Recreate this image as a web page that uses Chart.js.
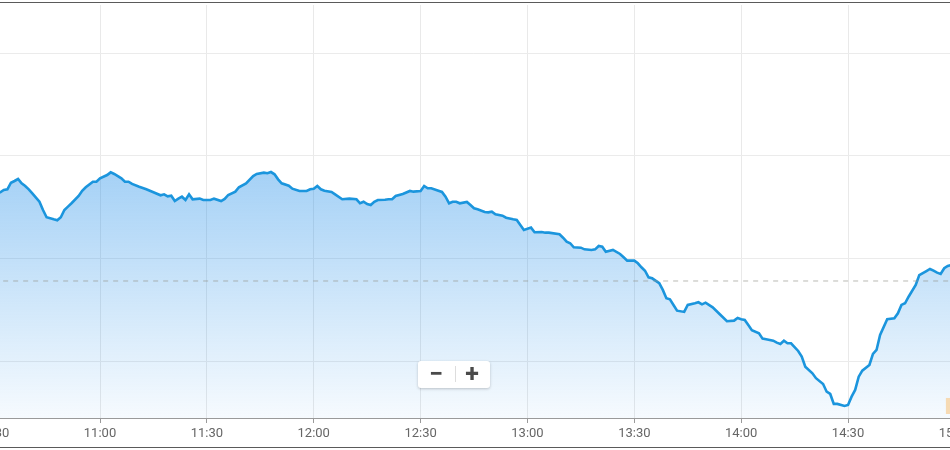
<!DOCTYPE html>
<html>
<head>
<meta charset="utf-8">
<script src="https://cdn.jsdelivr.net/npm/chart.js@4.4.0/dist/chart.umd.min.js"></script>
<style>
  html, body { margin: 0; padding: 0; background: #fff; }
  #frame { position: relative; width: 950px; height: 450px; overflow: hidden; background: #fff; }
  #plot { position: absolute; left: -60px; top: 0; width: 1075px; height: 450px; }
  .rule { position: absolute; left: 0; width: 950px; height: 1px; background: #5a5a5a; }
  #zoom {
    position: absolute; left: 418px; top: 361px; width: 72px; height: 27px;
    background: #fff; border-radius: 3px; box-shadow: 0 1px 3px rgba(0,0,0,0.22);
    font-family: Roboto, "DejaVu Sans", sans-serif; color: #4a4a4a; font-weight: bold;
  }
  #zoom span { position: absolute; top: 0; width: 36px; height: 27px; line-height: 26px; text-align: center; font-size: 25px; }
  #zoom .sep { position: absolute; left: 37px; top: 5px; width: 1px; height: 16px; background: #ddd; }
</style>
</head>
<body>
<div id="frame">
  <div id="plot"><canvas id="myChart"></canvas></div>
  <div class="rule" style="top:2px"></div>
  <div class="rule" style="top:447px"></div>
  <div id="zoom"><span style="left:0">−</span><div class="sep"></div><span style="left:36px">+</span></div>
</div>
<script>
// intraday price line
const times = [
  "10:30","10:31","10:32","10:33","10:34","10:35","10:36","10:37","10:38","10:39","10:40","10:41","10:43","10:44","10:45","10:47","10:48","10:49","10:50","10:51","10:52","10:54","10:55","10:56","10:58","10:59",
  "11:00","11:02","11:03","11:04","11:06","11:07","11:08","11:09","11:11","11:13","11:15","11:17","11:18","11:19","11:20","11:21","11:22","11:23","11:24","11:25","11:26","11:28","11:29",
  "11:31","11:32","11:34","11:35","11:36","11:38","11:39","11:41","11:43","11:44","11:46","11:47","11:48","11:49","11:50","11:51","11:53","11:54","11:56","11:58","11:59",
  "12:00","12:01","12:02","12:03","12:05","12:06","12:08","12:10","12:12","12:13","12:14","12:15","12:16","12:17","12:18","12:20","12:21","12:22","12:23","12:25","12:27","12:28","12:30","12:31","12:32","12:33","12:35","12:36","12:37","12:38","12:39","12:40","12:41","12:43","12:44","12:45","12:46","12:48","12:49","12:50","12:51","12:53","12:54","12:56","12:57","12:58","12:59",
  "13:01","13:02","13:04","13:05","13:06","13:09","13:10","13:11","13:12","13:13","13:15","13:16","13:18","13:19","13:20","13:21","13:22","13:24","13:26","13:27","13:28","13:30","13:31","13:32","13:33","13:34","13:35","13:37","13:38","13:39","13:40","13:41","13:42","13:44","13:45","13:47","13:48","13:49","13:50","13:52","13:54","13:56","13:58","13:59",
  "14:00","14:01","14:02","14:03","14:05","14:06","14:07","14:09","14:10","14:11","14:12","14:13","14:14","14:16","14:17","14:18","14:20","14:21","14:23","14:24","14:25","14:26","14:27","14:29","14:30","14:31","14:32","14:33","14:34","14:36","14:37","14:38","14:39","14:41","14:43","14:44","14:45","14:46","14:47","14:49","14:50","14:52","14:53","14:54","14:55","14:56","14:57","14:58","14:59",
];

const prices = [
  2996.2, 2996.4, 2996.46, 2996.68, 2996.75, 2997.39, 2997.56, 2997.75, 2997.33, 2997.07, 2996.75, 2996.36, 2995.54, 2994.74, 2994.03, 2993.83, 2993.74, 2994.03, 2994.74, 2995.06, 2995.39, 2996.10, 2996.61, 2996.95, 2997.49, 2997.49,
  2997.82, 2998.14, 2998.40, 2998.24, 2997.82, 2997.49, 2997.49, 2997.27, 2997.00, 2996.75, 2996.46, 2996.17, 2996.26, 2996.07, 2996.13, 2995.61, 2995.84, 2996.03, 2995.71, 2996.26, 2995.78, 2995.84, 2995.71,
  2995.71, 2995.84, 2995.61, 2995.81, 2996.20, 2996.52, 2996.95, 2997.33, 2998.04, 2998.24, 2998.37, 2998.31, 2998.43, 2998.21, 2997.72, 2997.33, 2997.10, 2996.81, 2996.59, 2996.59, 2996.75,
  2996.81, 2997.07, 2996.75, 2996.61, 2996.49, 2996.26, 2995.78, 2995.84, 2995.78, 2995.39, 2995.54, 2995.32, 2995.22, 2995.54, 2995.71, 2995.74, 2995.78, 2995.78, 2996.10, 2996.29, 2996.59, 2996.52, 2996.59, 2997.07, 2996.85, 2996.85, 2996.61, 2996.49, 2996.03, 2995.39, 2995.54, 2995.54, 2995.39, 2995.52, 2995.22, 2994.90, 2994.81, 2994.54, 2994.51, 2994.57, 2994.32, 2994.18, 2993.99, 2993.83, 2993.76, 2993.28, 2992.79,
  2993.02, 2992.57, 2992.60, 2992.53, 2992.53, 2992.37, 2992.04, 2991.65, 2991.50, 2991.11, 2991.07, 2990.91, 2990.85, 2990.91, 2991.24, 2991.17, 2990.68, 2990.85, 2990.46, 2990.14, 2989.81, 2989.81, 2989.55, 2989.16, 2988.83, 2988.19, 2988.09, 2987.61, 2986.96, 2986.15, 2986.05, 2985.50, 2984.94, 2984.82, 2985.50, 2985.66, 2985.76, 2985.56, 2985.72, 2985.27, 2984.59, 2983.91, 2983.97, 2984.23,
  2984.11, 2984.04, 2983.55, 2983.04, 2982.74, 2982.22, 2982.16, 2982.02, 2981.83, 2981.70, 2982.02, 2981.77, 2981.77, 2981.02, 2980.47, 2979.49, 2978.85, 2978.37, 2977.81, 2977.06, 2976.84, 2975.87, 2975.87, 2975.67, 2975.77, 2976.58, 2977.23, 2978.52, 2979.11, 2979.66, 2980.73, 2981.12, 2982.58, 2984.11, 2984.20, 2984.69, 2985.50, 2985.66, 2986.30, 2987.44, 2988.41, 2988.80, 2989.00, 2988.83, 2988.64, 2988.51, 2989.07, 2989.29, 2989.39,
];

const timeTicks = ["10:30", "11:00", "11:30", "12:00", "12:30", "13:00", "13:30", "14:00", "14:30", "15:00"];
const priceGrid = [2980, 2990, 3000, 3010];
const prevClose = 2987.83;

const toMin = (t) => {
  const [h, m] = t.split(":").map(Number);
  return h * 60 + m;
};
const toLabel = (v) => {
  const h = Math.floor(v / 60);
  const m = v % 60;
  return h + ":" + String(m).padStart(2, "0");
};

const xMin = toMin(timeTicks[0]);
const xMax = toMin(timeTicks[timeTicks.length - 1]);

// small tag on the right edge at the day's low
const lowTag = {
  id: "lowTag",
  afterDraw(chart) {
    const { ctx, chartArea, scales } = chart;
    const y = scales.y.getPixelForValue(Math.min(...prices));
    ctx.save();
    ctx.fillStyle = "#f6dab3";
    ctx.fillRect(chartArea.right - 9, y - 8, 40, 16);
    ctx.restore();
  },
};

const ctx = document.getElementById("myChart").getContext("2d");

const data = {
  datasets: [
    {
      data: times.map((t, i) => ({ x: toMin(t), y: prices[i] })),
      borderColor: "#1b95dd",
      borderWidth: 2.6,
      pointRadius: 0,
      tension: 0,
      fill: "start",
      order: 1,
      backgroundColor: (c) => {
        const chart = c.chart;
        const area = chart.chartArea;
        if (!area) return "rgba(30,140,230,0.2)";
        const top = chart.scales.y.getPixelForValue(Math.max(...prices));
        const g = chart.ctx.createLinearGradient(0, top, 0, area.bottom);
        g.addColorStop(0, "rgba(30,140,232,0.40)");
        g.addColorStop(0.5, "rgba(30,140,232,0.22)");
        g.addColorStop(1, "rgba(30,140,232,0.04)");
        return g;
      },
    },
    {
      data: [
        { x: xMin, y: prevClose },
        { x: xMax, y: prevClose },
      ],
      borderColor: "rgba(150,150,140,0.65)",
      borderWidth: 1,
      borderDash: [5, 5],
      pointRadius: 0,
      fill: false,
      order: 0,
    },
  ],
};

const config = {
  type: "line",
  data: data,
  plugins: [lowTag],
  options: {
    responsive: true,
    maintainAspectRatio: false,
    animation: false,
    layout: { padding: { left: 53.14, right: 60.1, top: 5, bottom: 0 } },
    plugins: {
      legend: { display: false },
      tooltip: { enabled: false },
    },
    scales: {
      x: {
        type: "linear",
        min: xMin,
        max: xMax,
        afterBuildTicks: (s) => {
          s.ticks = timeTicks.map((t) => ({ value: toMin(t) }));
        },
        afterFit: (s) => {
          s.height = 32;
        },
        grid: { color: "#e9e9e9", tickColor: "#9a9a9a", tickLength: 5 },
        border: { color: "#9a9a9a", width: 1 },
        ticks: {
          maxRotation: 0,
          autoSkip: false,
          padding: 3,
          color: "#666",
          font: { family: "Roboto", size: 13 },
          callback: (v) => toLabel(v),
        },
      },
      y: {
        min: 2974.5,
        max: 3014.68,
        afterBuildTicks: (s) => {
          s.ticks = priceGrid.map((v) => ({ value: v }));
        },
        afterFit: (s) => {
          s.width = 0;
        },
        grid: { color: "#ebebeb", drawTicks: false },
        border: { display: false },
        ticks: { display: false },
      },
    },
  },
};

const myChart = new Chart(ctx, config);
</script>
</body>
</html>
